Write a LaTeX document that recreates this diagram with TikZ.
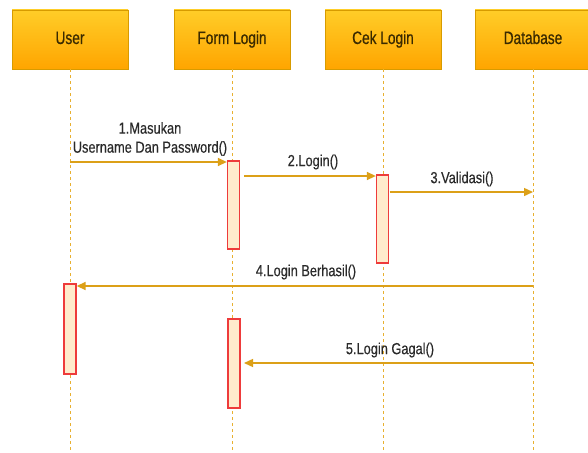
\documentclass[tikz,border=0pt]{standalone}
\usepackage{fontspec}
\setmainfont{Liberation Sans}
\newfontfamily\titlefont{Liberation Sans}[FakeStretch=0.76,FakeBold=0.6]
\newfontfamily\lblfont{Liberation Sans}[FakeStretch=0.8,FakeBold=0.3]
\usetikzlibrary{arrows.meta}
\definecolor{boxtop}{HTML}{FFCD28}
\definecolor{boxbot}{HTML}{FFA500}
\definecolor{boxline}{HTML}{D79B00}
\definecolor{msgcol}{HTML}{DCA018}
\definecolor{lifecol}{HTML}{E8B030}
\definecolor{actfill}{HTML}{FFEBCC}
\definecolor{actline}{HTML}{EE3B3B}
\definecolor{txt}{HTML}{2A2A2A}
\definecolor{titletxt}{HTML}{3A2A00}
\tikzset{
  actor/.style={draw=boxline, top color=boxtop, bottom color=boxbot, minimum width=116pt, minimum height=59pt, inner sep=0pt, text height=13pt, text depth=4pt, font=\titlefont\fontsize{18}{21}\selectfont, text=titletxt},
  lifeline/.style={draw=lifecol, dash pattern=on 3pt off 3pt, line width=0.8pt},
  actbox/.style={draw=actline, fill=actfill, line width=1.3pt, minimum width=12pt, inner sep=0pt},
  msg/.style={draw=msgcol, line width=1.4pt, -{Triangle[length=9pt,width=8pt]}},
  lbl/.style={font=\lblfont\fontsize{16}{19}\selectfont, text=txt, align=center, inner sep=1pt}
}
\begin{document}
\begin{tikzpicture}[x=1pt,y=-1pt]
\useasboundingbox (0,0) rectangle (588,452);
\fill[white] (0,0) rectangle (588,452);
% actors
\node[actor] (user) at (70,39.5) {User};
\node[actor] (form) at (232,39.5) {Form Login};
\node[actor] (cek) at (383,39.5) {Cek Login};
\node[actor] (db) at (533,39.5) {Database};
% lifeline ends
\coordinate (ue) at (70,452);
\coordinate (fe) at (232,452);
\coordinate (ce) at (383,452);
\coordinate (de) at (533,452);
\draw[lifeline] (user.south) -- (ue);
\draw[lifeline] (form.south) -- (fe);
\draw[lifeline] (cek.south) -- (ce);
\draw[lifeline] (db.south) -- (de);
% activations
\node[actbox, minimum height=88pt] (a1) at (233.5,205) {};
\node[actbox, minimum height=88pt] (a2) at (382.5,219) {};
\node[actbox, minimum height=90pt] (a3) at (70,329) {};
\node[actbox, minimum height=89pt] (a4) at (234,363.5) {};
% message endpoints
\coordinate (m1s) at (70,162);
\coordinate (m2s) at (244,176);
\coordinate (m3s) at (389.5,192);
\coordinate (m4s) at (533,286);
\coordinate (m5s) at (533,363);
\coordinate (m5e) at (244,363);
% messages
\draw[msg] (m1s) -- (a1.west |- m1s);
\draw[msg] (m2s) -- (a2.west |- m2s);
\draw[msg] (m3s) -- (db.south |- m3s);
\draw[msg] (m4s) -- (a3.east |- m4s);
\draw[msg] (m5s) -- (m5e);
% labels
\node[lbl] (l1) at (150,139) {1.Masukan\\Username Dan Password()};
\node[lbl] (l2) at (313,162) {2.Login()};
\node[lbl] (l3) at (462,179) {3.Validasi()};
\node[lbl] (l4) at (306,272) {4.Login Berhasil()};
\node[lbl] (l5) at (390,350) {5.Login Gagal()};
\end{tikzpicture}
\end{document}
